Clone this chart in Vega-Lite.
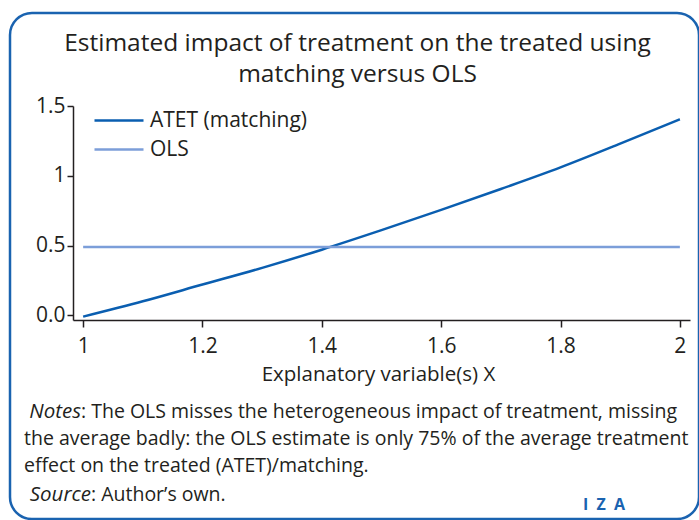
{
  "$schema": "https://vega.github.io/schema/vega-lite/v6.json",
  "width": 689,
  "height": 506,
  "autosize": {"type": "none"},
  "padding": {"left": 10, "top": 13, "right": 0, "bottom": 1},
  "background": "#ffffff",
  "config": {
    "font": "Open Sans",
    "view": {"stroke": "#1a63b0", "strokeWidth": 2.5, "cornerRadius": 22, "fill": "#ffffff"},
    "axis": {"domainColor": "#231f20", "tickColor": "#231f20", "domainWidth": 1.5, "tickWidth": 1.5, "labelColor": "#231f20", "titleColor": "#231f20", "labelFont": "Open Sans", "titleFont": "Open Sans", "labelFontSize": 21, "titleFontSize": 20.5, "titleFontWeight": "normal", "grid": false, "tickSize": 7},
    "text": {"font": "Open Sans", "fontSize": 19.5, "color": "#231f20"}
  },
  "title": {"text": ["Estimated impact of treatment on the treated using", "matching versus OLS"], "font": "Open Sans", "fontSize": 24.5, "fontWeight": "normal", "color": "#231f20", "anchor": "middle", "offset": -74, "lineHeight": 31, "dx": 3},
  "layer": [
    {
      "data": {"values": [
        {"series": "ATET (matching)", "x": 1.0, "y": -0.01},
        {"series": "ATET (matching)", "x": 1.1, "y": 0.10},
        {"series": "ATET (matching)", "x": 1.2, "y": 0.22},
        {"series": "ATET (matching)", "x": 1.3, "y": 0.34},
        {"series": "ATET (matching)", "x": 1.4, "y": 0.47},
        {"series": "ATET (matching)", "x": 1.5, "y": 0.61},
        {"series": "ATET (matching)", "x": 1.6, "y": 0.755},
        {"series": "ATET (matching)", "x": 1.7, "y": 0.905},
        {"series": "ATET (matching)", "x": 1.8, "y": 1.06},
        {"series": "ATET (matching)", "x": 1.9, "y": 1.23},
        {"series": "ATET (matching)", "x": 2.0, "y": 1.405},
        {"series": "OLS", "x": 1.0, "y": 0.49},
        {"series": "OLS", "x": 1.2, "y": 0.49},
        {"series": "OLS", "x": 1.4, "y": 0.49},
        {"series": "OLS", "x": 1.6, "y": 0.49},
        {"series": "OLS", "x": 1.8, "y": 0.49},
        {"series": "OLS", "x": 2.0, "y": 0.49}
      ]},
      "mark": {"type": "line", "interpolate": "monotone", "strokeWidth": 2.5},
      "encoding": {
        "x": {"field": "x", "type": "quantitative",
          "scale": {"domain": [0.983, 2.017], "range": [63, 680], "nice": false, "zero": false},
          "axis": {"orient": "bottom", "offset": -199, "values": [1, 1.2, 1.4, 1.6, 1.8, 2], "format": "~g", "title": "Explanatory variable(s) X", "labelPadding": 8, "titlePadding": 8, "titleX": 368}},
        "y": {"field": "y", "type": "quantitative",
          "scale": {"domain": [-0.034, 1.5], "range": [307, 93], "nice": false, "zero": false},
          "axis": {"orient": "left", "offset": -63, "values": [0, 0.5, 1, 1.5], "labelExpr": "datum.value == 0 ? '0.0' : format(datum.value, '~g')", "title": null, "tickSize": 6, "labelPadding": 2}},
        "color": {"field": "series", "type": "nominal",
          "scale": {"domain": ["ATET (matching)", "OLS"], "range": ["#0a5eb0", "#7c9ed9"]},
          "legend": {"orient": "none", "legendX": 83, "legendY": 96, "title": null, "symbolType": "M-1,0H3.9", "symbolSize": 400, "symbolStrokeWidth": 2.5, "labelOffset": 34, "labelFontSize": 21, "labelFont": "Open Sans", "labelColor": "#231f20", "rowPadding": 7, "padding": 0}}
      }
    },
    {
      "data": {"values": [{"text": "Notes"}]},
      "mark": {"type": "text", "align": "right", "baseline": "alphabetic", "fontStyle": "italic", "fontSize": 20.5},
      "encoding": {"text": {"field": "text"}, "x": {"value": 71}, "y": {"value": 405}}
    },
    {
      "data": {"values": [{"text": ": The OLS misses the heterogeneous impact of treatment, missing"}]},
      "mark": {"type": "text", "align": "left", "baseline": "alphabetic"},
      "encoding": {"text": {"field": "text"}, "x": {"value": 71}, "y": {"value": 405}}
    },
    {
      "data": {"values": [{"text": "the average badly: the OLS estimate is only 75% of the average treatment"}]},
      "mark": {"type": "text", "align": "left", "baseline": "alphabetic"},
      "encoding": {"text": {"field": "text"}, "x": {"value": 14}, "y": {"value": 432}}
    },
    {
      "data": {"values": [{"text": "effect on the treated (ATET)/matching."}]},
      "mark": {"type": "text", "align": "left", "baseline": "alphabetic"},
      "encoding": {"text": {"field": "text"}, "x": {"value": 14}, "y": {"value": 459}}
    },
    {
      "data": {"values": [{"text": "Source"}]},
      "mark": {"type": "text", "align": "right", "baseline": "alphabetic", "fontStyle": "italic", "fontSize": 20.5},
      "encoding": {"text": {"field": "text"}, "x": {"value": 81}, "y": {"value": 488}}
    },
    {
      "data": {"values": [{"text": ": Author’s own."}]},
      "mark": {"type": "text", "align": "left", "baseline": "alphabetic"},
      "encoding": {"text": {"field": "text"}, "x": {"value": 81}, "y": {"value": 488}}
    },
    {
      "data": {"values": [{"text": "I\u00a0\u00a0Z\u00a0\u00a0A"}]},
      "mark": {"type": "text", "align": "center", "baseline": "middle", "fontWeight": "bold", "fontSize": 16, "color": "#1a63b0"},
      "encoding": {"text": {"field": "text"}, "x": {"value": 594}, "y": {"value": 492}}
    }
  ]
}
